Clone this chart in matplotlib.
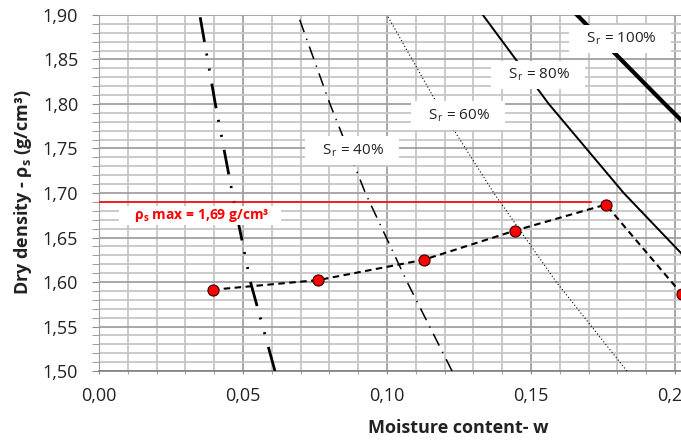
import matplotlib
matplotlib.use("Agg")
import matplotlib.pyplot as plt
from matplotlib.ticker import MultipleLocator, FuncFormatter

plt.rcParams['font.family'] = ['Open Sans', 'DejaVu Sans']
plt.rcParams['mathtext.fontset'] = 'custom'
plt.rcParams['mathtext.rm'] = 'Open Sans'
plt.rcParams['mathtext.default'] = 'regular'
plt.rcParams['lines.scale_dashes'] = False

# compaction test points (moisture content, dry density)
w_test = [0.0395, 0.0762, 0.1128, 0.1444, 0.1760, 0.2024]
rho_test = [1.5913, 1.6022, 1.6250, 1.6577, 1.6870, 1.5864]

# saturation lines, read at these dry densities
rho_sat = [1.50, 1.60, 1.70, 1.80, 1.90]
w_sr20 = [0.0611, 0.0526, 0.0463, 0.0404, 0.0350]
w_sr40 = [0.1226, 0.1070, 0.0925, 0.0802, 0.0691]
w_sr60 = [0.1833, 0.1588, 0.1371, 0.1175, 0.1000]
w_sr80 = [0.2450, 0.2117, 0.1822, 0.1562, 0.1333]
w_sr100 = [0.3063, 0.2646, 0.2278, 0.1965, 0.1660]

rho_max = 1.69
w_max_line = 0.171

fig = plt.figure(figsize=(6.81, 4.40), dpi=100)
ax = fig.add_axes([99 / 681, 69 / 440, 582 / 681, 356 / 440])

ax.set_xlim(0, 0.2021)
ax.set_ylim(1.50, 1.90)

ax.xaxis.set_major_locator(MultipleLocator(0.05))
ax.xaxis.set_minor_locator(MultipleLocator(0.01))
ax.yaxis.set_major_locator(MultipleLocator(0.05))
ax.yaxis.set_minor_locator(MultipleLocator(0.01))
fmt = FuncFormatter(lambda v, p: f"{v:.2f}".replace('.', ','))
ax.xaxis.set_major_formatter(fmt)
ax.yaxis.set_major_formatter(fmt)

ax.grid(which='minor', color='#c6c6c6', lw=1.3, zorder=0)
ax.grid(which='major', color='#a0a0a0', lw=1.3, zorder=0)
ax.set_axisbelow(True)

ax.tick_params(axis='both', which='both', colors='#8c8c8c', labelcolor='#222222', labelsize=13)
ax.tick_params(axis='y', which='both', length=5, pad=10)
ax.tick_params(axis='x', which='both', length=2.5, pad=9)

for s in ['top', 'right']:
    ax.spines[s].set_visible(False)
ax.spines['left'].set_color('#a0a0a0')
ax.spines['bottom'].set_color('#808080')
ax.spines['bottom'].set_linewidth(1.2)

# saturation lines
ax.plot(w_sr20, rho_sat, color='black', lw=2.0,
        linestyle=(0, (18, 9.5, 1.5, 9.5, 1.5, 8.5)), zorder=3)
ax.plot(w_sr40, rho_sat, color='black', lw=1.1,
        linestyle=(0, (9.5, 5, 1, 5)), zorder=3)
ax.plot(w_sr60, rho_sat, color='black', lw=0.8,
        linestyle=(0, (0.8, 1.6)), zorder=3)
ax.plot(w_sr80, rho_sat, color='black', lw=1.4, zorder=3)
ax.plot(w_sr100, rho_sat, color='black', lw=3.0, zorder=3)

# max dry density
ax.plot([0, w_max_line], [rho_max, rho_max], color='#ff0000', lw=1.2, zorder=4)

# compaction curve
ax.plot(w_test, rho_test, color='black', lw=1.5, linestyle=(0, (4.7, 3.2)), zorder=5)
ax.plot(w_test, rho_test, linestyle='none', marker='o', markersize=8,
        markerfacecolor='#ff0000', markeredgecolor='#300000', markeredgewidth=0.8,
        zorder=6)

box = dict(boxstyle='square,pad=0.4', facecolor='white', edgecolor='none')
sr_labels = [('   S$_r$ = 100%   ', 0.1809, 1.873),
             ('   S$_r$ = 80%   ', 0.1524, 1.8324),
             ('   S$_r$ = 60%   ', 0.1247, 1.7873),
             ('   S$_r$ = 40%   ', 0.0878, 1.7479)]
for txt, x, y in sr_labels:
    ax.text(x, y, txt, fontsize=11, color='#222222', ha='center', va='center',
            bbox=box, zorder=8)

ax.text(0.0351, 1.6746, '    ρ$_s$ max = 1,69 g/cm³    ', fontsize=10, fontweight='bold',
        color='#ff0000', ha='center', va='center',
        bbox=dict(boxstyle='square,pad=0.05', facecolor='white', edgecolor='none'),
        zorder=8)

ax.set_xlabel('Moisture content- w', fontsize=13, fontweight='bold', color='#222222')
ax.set_ylabel('Dry density - ρ$_s$ (g/cm³)', fontsize=13, fontweight='bold', color='#222222')
ax.xaxis.set_label_coords((458 - 99) / 582, -0.135)
ax.yaxis.set_label_coords((34 - 99) / 582, 0.503)

fig.savefig('out.png', dpi=100)
